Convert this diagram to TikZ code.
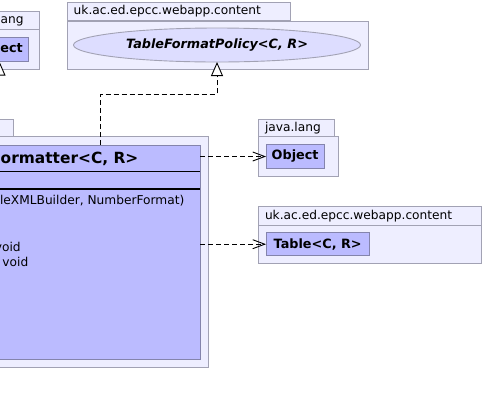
\documentclass[tikz,border=0pt]{standalone}
\usepackage{fontspec}
\setmainfont{DejaVu Sans}[BoldFont={DejaVu Sans Bold},ItalicFont={DejaVu Sans Oblique},BoldItalicFont={DejaVu Sans Bold Oblique}]
\usetikzlibrary{arrows.meta,positioning,fit,shapes.geometric}
\definecolor{pkgfill}{HTML}{EEEEFF}
\definecolor{pkgline}{HTML}{A2A2B4}
\definecolor{clsfill}{HTML}{BBBBFF}
\definecolor{clsline}{HTML}{8484AC}
\definecolor{ifcfill}{HTML}{DDDDFF}
\newcommand{\pkgfont}{\fontsize{12.2bp}{14bp}\selectfont}
\newcommand{\clsfont}{\fontsize{12.8bp}{14bp}\selectfont\bfseries}
\newcommand{\titlefont}{\fontsize{15.4bp}{17bp}\selectfont\bfseries}
\newcommand{\opfont}{\fontsize{12.2bp}{15.67bp}\selectfont}
\tikzset{
  every node/.style={inner sep=0pt,outer sep=0pt},
  pkgtab/.style={draw=pkgline,fill=pkgfill,line width=0.9bp,anchor=north west,align=left,inner xsep=6.7bp,minimum height=18bp,font=\pkgfont},
  pkgbody/.style={draw=pkgline,fill=pkgfill,line width=0.9bp,anchor=north west},
  classbox/.style={draw=clsline,fill=clsfill,line width=0.9bp,anchor=north west,font=\clsfont},
  clspart/.style={fill=clsfill,minimum width=350bp},
  iface/.style={ellipse,draw=pkgline,fill=ifcfill,line width=0.9bp,font=\clsfont\itshape},
  optext/.style={font=\opfont,anchor=base east},
  depends/.style={-{Straight Barb[length=12bp,width=9bp]},line width=0.9bp,dash pattern=on 5bp off 3bp},
  realizes/.style={-{Triangle[open,length=14bp,width=12bp,fill=white]},line width=0.9bp,dash pattern=on 5bp off 3bp},
  extends/.style={-{Triangle[open,length=14bp,width=12bp,fill=white]},line width=0.9bp},
}
\begin{document}
\begin{tikzpicture}[x=1bp,y=-1bp]
\useasboundingbox (0,0) rectangle (484,405);
\clip (0,0) rectangle (484,405);

% java.lang (left)
\node[pkgtab,text width=64.6bp] (langtabL) at (-39,11) {java.lang};
\node[pkgbody,minimum width=78bp,minimum height=40bp] (langpkgL) at (-39,29) {};
\node[classbox,minimum width=58.3bp,minimum height=24bp] (objL) at (-29.7,37.5) {Object};

% uk.ac.ed.epcc.webapp.content (top)
\node[pkgtab,text width=209.6bp] (contabT) at (67,2.5) {uk.ac.ed.epcc.webapp.content};
\node[pkgbody,minimum width=301.3bp,minimum height=48.3bp] (conpkgT) at (67,21) {};
\node[iface,minimum width=287bp,minimum height=34bp] (policy) at (217,45) {TableFormatPolicy<C, R>};

% formatter package
\node[pkgtab,text width=60bp,minimum height=17.4bp] (fmttab) at (-60,119.3) {};
\node[pkgbody,minimum width=268.3bp,minimum height=230.3bp] (fmtpkg) at (-60,136.7) {};

% formatter class
\node[clspart,minimum height=26.7bp,anchor=north west] (clsname) at (-150,145) {};
\node[clspart,minimum height=17.3bp,below=0pt of clsname] (clsattr) {};
\node[clspart,minimum height=170bp,below=0pt of clsattr] (clsops) {};
\node[draw=clsline,line width=0.9bp,fit=(clsname)(clsops)] (cls) {};
\draw[line width=0.9bp] (clsname.south west) -- (clsname.south east);
\draw[line width=2bp] (clsattr.south west) -- (clsattr.south east);
\node[font=\titlefont,anchor=base east] (clstitle) at (138.3,163) {ormatter<C, R>};
\node[optext] (op1) at (184.3,204) {bleXMLBuilder, NumberFormat)};
\node[optext] (op4) at (20.7,251) {void};
\node[optext] (op5) at (28.3,266.5) {void};

% java.lang (right)
\node[pkgtab,text width=62.6bp,minimum height=17.4bp] (langtabR) at (258.3,119.3) {java.lang};
\node[pkgbody,minimum width=80.4bp,minimum height=39.3bp] (langpkgR) at (258.3,136.7) {};
\node[classbox,minimum width=58.3bp,minimum height=24bp] (objR) at (266,144.5) {Object};

% uk.ac.ed.epcc.webapp.content (right)
\node[pkgtab,text width=209.3bp,minimum height=18.3bp] (contabR) at (258.3,206.7) {uk.ac.ed.epcc.webapp.content};
\node[pkgbody,minimum width=222.7bp,minimum height=38.3bp] (conpkgR) at (258.3,225) {};
\node[classbox,minimum width=103.3bp,minimum height=23bp] (table) at (266,232.7) {Table<C, R>};

% connectors
\coordinate (bend) at (100.7,94);
\draw[realizes] (cls.north -| bend) -- (bend) -| (policy.south);
\draw[extends] (cls.north -| objL.south) -- (objL.south);
\draw[depends] (cls.east |- objR.west) -- (objR.west);
\draw[depends] (cls.east |- table.west) -- (table.west);

\end{tikzpicture}
\end{document}
